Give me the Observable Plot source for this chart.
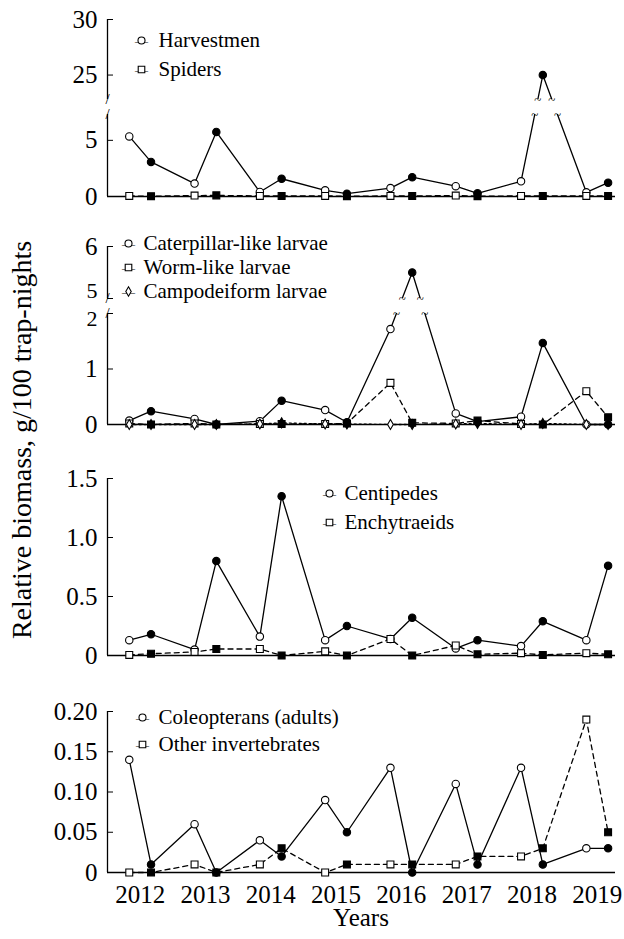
<!DOCTYPE html>
<html>
<head>
<meta charset="utf-8">
<script src="https://cdn.jsdelivr.net/npm/d3@7"></script>
<script src="https://cdn.jsdelivr.net/npm/@observablehq/plot@0.6"></script>
<style>
  body { margin: 0; background: #fff; }
  #wrap { position: relative; width: 624px; height: 939px; background: #fff; font-family: "Liberation Serif", "Times New Roman", Times, "Nimbus Roman", "DejaVu Serif", serif; }
  #wrap text { font-family: "Liberation Serif", "Times New Roman", Times, "Nimbus Roman", "DejaVu Serif", serif; }
  .panel { position: absolute; left: 0; }
  #labels { position: absolute; left: 0; top: 0; pointer-events: none; }
</style>
</head>
<body>
<div id="wrap"></div>
<script>
// ---- data (two samplings per year: open = first, filled = second) ----
const years = [2012, 2013, 2014, 2015, 2016, 2017, 2018, 2019];

const harvestmen   = [5.35, 3.08, 1.15, 5.75, 0.40, 1.58, 0.55, 0.25, 0.75, 1.72, 0.92, 0.28, 1.35, 25.0, 0.37, 1.23];
const spiders      = [0.05, 0.03, 0.08, 0.10, 0.05, 0.05, 0.05, 0.03, 0.05, 0.05, 0.08, 0.03, 0.05, 0.05, 0.05, 0.05];

const caterpillar  = [0.07, 0.24, 0.10, 0.00, 0.06, 0.43, 0.26, 0.04, 1.72, 5.50, 0.20, 0.05, 0.14, 1.47, 0.00, 0.00];
const wormlike     = [0.02, 0.00, 0.02, 0.00, 0.01, 0.01, 0.01, 0.02, 0.75, 0.03, 0.02, 0.07, 0.01, 0.00, 0.60, 0.13];
const campodeiform = [0.00, 0.00, 0.00, 0.00, 0.01, 0.03, 0.01, 0.01, 0.00, 0.00, 0.01, 0.02, 0.00, 0.02, 0.00, 0.00];

const centipedes   = [0.13, 0.18, 0.05, 0.80, 0.16, 1.35, 0.13, 0.25, 0.14, 0.32, 0.06, 0.13, 0.08, 0.29, 0.13, 0.76];
const enchytraeids = [0.005, 0.015, 0.03, 0.055, 0.055, 0.0, 0.035, 0.0, 0.14, 0.0, 0.085, 0.01, 0.02, 0.005, 0.02, 0.01];

const coleopterans = [0.14, 0.01, 0.06, 0.00, 0.04, 0.02, 0.09, 0.05, 0.13, 0.00, 0.11, 0.01, 0.13, 0.01, 0.03, 0.03];
const otherInv     = [0.00, 0.00, 0.01, 0.00, 0.01, 0.03, 0.00, 0.01, 0.01, 0.01, 0.01, 0.02, 0.02, 0.03, 0.19, 0.05];

const yTicks1 = [0, 5, 25, 30];
const yTicks2 = [0, 1, 2, 5, 6];
const yTicks3 = [0, 0.5, 1.0, 1.5];
const yTicks4 = [0, 0.05, 0.10, 0.15, 0.20];

const yLabel = "Relative biomass, g/100 trap-nights";
const xLabel = "Years";

// ---- helpers ----
const xDomain = [2011.5, 2019.28];
const FONT = "'Liberation Serif', 'Times New Roman', Times, 'Nimbus Roman', 'DejaVu Serif', serif";

function toRows(values) {
  return values.map((v, i) => ({t: years[i >> 1] + (i % 2 ? 1 / 6 : -1 / 6), v, late: i % 2 === 1}));
}

function crossings(rows, domain, range, lo, hi) {
  const f = d3.scaleLinear().domain(domain).range(range);
  const out = [];
  for (let i = 1; i < rows.length; i++) {
    const a = rows[i - 1], b = rows[i];
    if ((a.v < lo && b.v > hi) || (a.v > hi && b.v < lo)) {
      const pa = f(a.v), pb = f(b.v);
      for (const c of [lo, hi]) {
        const s = (f(c) - pa) / (pb - pa);
        out.push({t: a.t + s * (b.t - a.t), v: c});
      }
    }
  }
  return out;
}

const fmt0 = d => String(d);
const fmt1 = d => d === 0 ? "0" : d.toFixed(1);
const fmt2 = d => d === 0 ? "0" : d.toFixed(2);

const panels = [
  {top: 0, height: 210, domain: [0, 7.3, 22.8, 30], range: [196, 114, 99, 19], gap: [7.3, 22.8],
   ticks: yTicks1, fmt: fmt0, axisSegs: [[0, 7.3], [22.8, 30]], labelStyle: {},
   series: [
     {name: "Harvestmen", values: harvestmen, symbol: "circle", dash: null},
     {name: "Spiders", values: spiders, symbol: "square", dash: "5,4"}
   ],
   legend: {dx: 34, dy: 21, step: 29, tdx: 51}},
  {top: 210, height: 230, domain: [0, 2, 5, 6], range: [424, 313, 298, 246], gap: [2, 5],
   ticks: yTicks2, fmt: fmt0, axisSegs: [[0, 2], [5, 6]],
   labelStyle: {5: {dy: -8, size: 22}, 2: {dy: 5, size: 22}},
   series: [
     {name: "Caterpillar-like larvae", values: caterpillar, symbol: "circle", dash: null},
     {name: "Worm-like larvae", values: wormlike, symbol: "square", dash: "5,4"},
     {name: "Campodeiform larvae", values: campodeiform, symbol: "diamond", dash: "2,3"}
   ],
   legend: {dx: 21, dy: -3, step: 24, tdx: 36}},
  {top: 440, height: 225, domain: [0, 1.5], range: [655, 478], gap: null,
   ticks: yTicks3, fmt: fmt1, axisSegs: [[0, 1.5]], labelStyle: {},
   series: [
     {name: "Centipedes", values: centipedes, symbol: "circle", dash: null},
     {name: "Enchytraeids", values: enchytraeids, symbol: "square", dash: "5,4"}
   ],
   legend: {dx: 222, dy: 15, step: 29, tdx: 237}},
  {top: 665, height: 274, domain: [0, 0.2], range: [872, 711], gap: null,
   ticks: yTicks4, fmt: fmt2, axisSegs: [[0, 0.2]], labelStyle: {}, xAxis: true,
   series: [
     {name: "Coleopterans (adults)", values: coleopterans, symbol: "circle", dash: null},
     {name: "Other invertebrates", values: otherInv, symbol: "square", dash: "5,4"}
   ],
   legend: {dx: 35, dy: 6, step: 27, tdx: 51}}
];

function symR(sym) { return sym === "circle" ? 3.7 : sym === "square" ? 3.9 : 3.0; }

function makePanel(p) {
  const R = p.range.map(r => r - p.top);
  const mt = Math.min(...R), fb = Math.max(...R);
  const data = p.series.map(s => ({...s, rows: toRows(s.values)}));
  const marks = [];
  marks.push(Plot.ruleY([0], {stroke: "black", strokeWidth: 1.4}));
  for (const s of data) {
    marks.push(Plot.line(s.rows, {x: "t", y: "v", stroke: "black", strokeWidth: 1.3, strokeDasharray: s.dash}));
  }
  if (p.gap) {
    marks.push(Plot.rect([p.gap], {y1: d => d[0], y2: d => d[1], fill: "white"}));
  }
  for (const s of data) {
    const r = symR(s.symbol);
    marks.push(Plot.dot(s.rows.filter(d => !d.late), {x: "t", y: "v", symbol: s.symbol, r, fill: "white", stroke: "black", strokeWidth: 1.1}));
    marks.push(Plot.dot(s.rows.filter(d => d.late), {x: "t", y: "v", symbol: s.symbol, r, fill: "black", stroke: "black", strokeWidth: 1.1}));
  }
  marks.push(Plot.ruleX(p.axisSegs, {x: () => xDomain[0], y1: d => d[0], y2: d => d[1], stroke: "black", strokeWidth: 1.3}));
  if (p.gap) {
    marks.push(Plot.text(p.gap, {x: () => xDomain[0], y: d => d, text: () => "/", fontSize: 15, fontFamily: FONT}));
    const tl = data.flatMap(s => crossings(s.rows, p.domain, R, p.gap[0], p.gap[1]));
    marks.push(Plot.text(tl, {x: "t", y: "v", text: () => "~", fontSize: 13, fontFamily: FONT}));
  }
  // tick marks (inward), then labels
  marks.push(Plot.axisY(p.ticks, {tickSize: 6, dx: 6, tickFormat: () => "", label: null}));
  for (const t of p.ticks) {
    const st = p.labelStyle[t] || {};
    marks.push(Plot.axisY([t], {tickSize: 0, tickPadding: 10, dy: st.dy || 0, tickFormat: p.fmt, fontSize: st.size || 25, fontFamily: FONT, label: null}));
  }
  if (p.xAxis) {
    marks.push(Plot.axisX(years, {tickSize: 0, tickPadding: 13, tickFormat: d => String(d), fontSize: 25, fontFamily: FONT, label: null}));
  }
  // legend
  data.forEach((s, i) => {
    const dy = p.legend.dy + i * p.legend.step;
    marks.push(Plot.text([s.name], {frameAnchor: "top-left", dx: p.legend.dx, dy, text: () => "\u2014", fontSize: 13, textAnchor: "middle", lineAnchor: "middle", fontFamily: FONT}));
    marks.push(Plot.dot([s.name], {frameAnchor: "top-left", dx: p.legend.dx, dy, symbol: s.symbol, r: symR(s.symbol) * 0.95, fill: "white", stroke: "black", strokeWidth: 1.1}));
    marks.push(Plot.text([s.name], {frameAnchor: "top-left", dx: p.legend.tdx, dy, text: d => d, fontSize: 21, textAnchor: "start", lineAnchor: "middle", fontFamily: FONT}));
  });

  const chart = Plot.plot({
    width: 624,
    height: p.height,
    marginLeft: 107,
    marginRight: 9,
    marginTop: mt,
    marginBottom: p.height - fb,
    x: {domain: xDomain, label: null, ...(p.xAxis ? {} : {axis: null})},
    y: {type: "linear", domain: p.domain, range: R, label: null},
    style: {fontFamily: FONT, fontSize: "25px", color: "black", background: "white", overflow: "visible"},
    marks
  });
  chart.classList.add("panel");
  chart.style.top = p.top + "px";
  return chart;
}

const wrap = document.getElementById("wrap");
for (const p of panels) wrap.appendChild(makePanel(p));

// shared axis labels
const ns = "http://www.w3.org/2000/svg";
const lab = document.createElementNS(ns, "svg");
lab.setAttribute("id", "labels");
lab.setAttribute("width", 624);
lab.setAttribute("height", 939);
const yl = document.createElementNS(ns, "text");
yl.setAttribute("transform", "translate(31,440) rotate(-90)");
yl.setAttribute("text-anchor", "middle");
yl.setAttribute("font-size", "28");
yl.textContent = yLabel;
lab.appendChild(yl);
const xl = document.createElementNS(ns, "text");
xl.setAttribute("x", 361);
xl.setAttribute("y", 926);
xl.setAttribute("text-anchor", "middle");
xl.setAttribute("font-size", "25");
xl.textContent = xLabel;
lab.appendChild(xl);
wrap.appendChild(lab);
</script>
</body>
</html>
